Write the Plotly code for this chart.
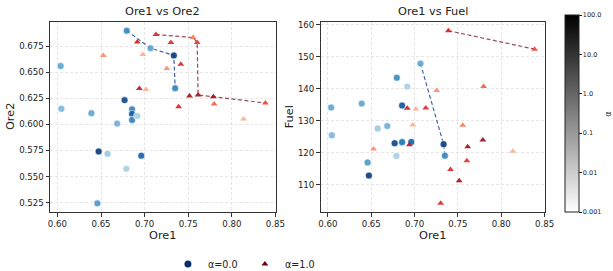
import numpy as np
import plotly.graph_objects as go

# ---------------- data ----------------
# alpha = 0.0 runs (blue circles)
ore1_a0 = [0.6795, 0.7068, 0.7335, 0.7350, 0.6037, 0.6045, 0.6390, 0.6770, 0.6856,
           0.6856, 0.6856, 0.6916, 0.6685, 0.6473, 0.6575, 0.6962, 0.6790, 0.6458]
ore2_a0 = [0.6899, 0.6731, 0.6661, 0.6347, 0.6560, 0.6150, 0.6107, 0.6233, 0.6145,
           0.6100, 0.6043, 0.6081, 0.6008, 0.5741, 0.5719, 0.5700, 0.5574, 0.5243]
fuel_a0 = [143.5, 147.9, 122.7, 119.1, 134.2, 125.5, 135.4, 123.0, 123.5,
           134.8, 123.3, 140.7, 128.4, 112.9, 127.6, 123.4, 119.0, 117.0]
sigma_a0 = [2, 0.5, 60, 2.5, 0.5, 0.2, 0.5, 40, 3, 20, 3, 0.05, 0.3, 70, 0.08, 12, 0.05, 1]

# alpha = 1.0 runs (red triangles)
ore1_a1 = [0.7129, 0.7556, 0.7603, 0.7613, 0.7788, 0.8385, 0.6916, 0.7301, 0.6527,
           0.6979, 0.7415, 0.7255, 0.6940, 0.7015, 0.7515, 0.7390, 0.7797, 0.8135]
ore2_a1 = [0.6861, 0.6833, 0.6785, 0.6281, 0.6266, 0.6205, 0.6790, 0.6785, 0.6660,
           0.6670, 0.6576, 0.6535, 0.6345, 0.6335, 0.6272, 0.6169, 0.6195, 0.6052]
fuel_a1 = [134.0, 128.6, 117.5, 121.9, 124.0, 152.4, 133.9, 104.2, 121.2,
           128.7, 114.8, 139.5, 122.5, 133.7, 111.3, 158.2, 140.7, 120.5]
sigma_a1 = [3, 0.2, 2, 30, 30, 1, 5, 3, 0.1, 0.03, 3, 0.1, 8, 0.03, 25, 4, 0.5, 0.03]

sigma_ticks = [0.001, 0.01, 0.1, 1.0, 10.0, 100.0]
sigma_ticktext = ["0.001", "0.01", "0.1", "1.0", "10.0", "100.0"]
legend_labels = ["α=0.0", "α=1.0"]
titles = ["Ore1 vs Ore2", "Ore1 vs Fuel"]


def pareto(xs, ys):
    pts = list(zip(xs, ys))
    front = [p for p in pts
             if not any((q[0] >= p[0] and q[1] >= p[1]) and q != p for q in pts)]
    front.sort()
    return [p[0] for p in front], [p[1] for p in front]


FONT = "DejaVu Sans"
W, H = 613, 271
# plot-area box in pixels (paper area)
L, R, T, B = 50, 545.3, 22, 212
PW, PH = R - L, B - T


def px(xp):  # pixel x -> paper x
    return (xp - L) / PW


def py(yp):  # pixel y -> paper y
    return (B - yp) / PH


cmin, cmax = np.log10(sigma_ticks[0]), np.log10(sigma_ticks[-1])

blues = [[0, "#f7fbff"], [0.125, "#deebf7"], [0.25, "#c6dbef"], [0.375, "#9ecae1"],
         [0.5, "#6baed6"], [0.625, "#4292c6"], [0.75, "#2171b5"], [0.875, "#08519c"],
         [1, "#08306b"]]
reds = [[0, "#fff5f0"], [0.125, "#fee0d2"], [0.25, "#fcbba1"], [0.375, "#fc9272"],
        [0.5, "#fb6a4a"], [0.625, "#ef3b2c"], [0.75, "#cb181d"], [0.875, "#a50f15"],
        [1, "#67000d"]]

fig = go.Figure()

panels = [("x", "y", ore2_a0, ore2_a1), ("x2", "y2", fuel_a0, fuel_a1)]
for xa, ya, y0, y1 in panels:
    fx, fy = pareto(ore1_a0, y0)
    fig.add_trace(go.Scatter(x=fx, y=fy, mode="lines", xaxis=xa, yaxis=ya,
                             line=dict(color="rgba(30,70,140,0.85)", width=1.2, dash="4px,2.5px"),
                             showlegend=False, hoverinfo="skip"))
    fx, fy = pareto(ore1_a1, y1)
    fig.add_trace(go.Scatter(x=fx, y=fy, mode="lines", xaxis=xa, yaxis=ya,
                             line=dict(color="rgba(130,30,50,0.8)", width=1.2, dash="4px,2.5px"),
                             showlegend=False, hoverinfo="skip"))
    fig.add_trace(go.Scatter(x=ore1_a0, y=y0, mode="markers", xaxis=xa, yaxis=ya,
                             marker=dict(symbol="circle", size=7, color=np.log10(sigma_a0),
                                         colorscale=blues, cmin=cmin, cmax=cmax, opacity=0.9,
                                         line=dict(color="rgba(255,255,255,0.6)", width=1.2)),
                             showlegend=False))
    fig.add_trace(go.Scatter(x=ore1_a1, y=y1, mode="markers", xaxis=xa, yaxis=ya,
                             marker=dict(symbol="triangle-up", size=6, color=np.log10(sigma_a1),
                                         colorscale=reds, cmin=cmin, cmax=cmax, opacity=0.9,
                                         line=dict(width=0)),
                             showlegend=False))

# legend entries
fig.add_trace(go.Scatter(x=[None], y=[None], mode="markers", name=legend_labels[0],
                         marker=dict(symbol="circle", size=7, color="#08306b")))
fig.add_trace(go.Scatter(x=[None], y=[None], mode="markers", name=legend_labels[1],
                         marker=dict(symbol="triangle-up", size=6, color="#67000d")))

# colorbar
fig.add_trace(go.Scatter(x=[None], y=[None], mode="markers", showlegend=False, hoverinfo="skip",
                         marker=dict(color=[cmin, cmax], cmin=cmin, cmax=cmax,
                                     colorscale=[[0, "#ffffff"], [1, "#000000"]],
                                     showscale=True,
                                     colorbar=dict(x=px(565.7), xanchor="left",
                                                   y=py(113.5), yanchor="middle",
                                                   len=197 / PH, lenmode="fraction",
                                                   thickness=13.5, outlinewidth=1,
                                                   outlinecolor="#222",
                                                   tickvals=list(np.log10(sigma_ticks)),
                                                   ticktext=sigma_ticktext,
                                                   ticks="outside", ticklen=2.5, tickwidth=0.8,
                                                   tickcolor="#222",
                                                   tickfont=dict(family=FONT, size=6.5, color="#222"),
                                                   xpad=0, ypad=0))))

axis_common = dict(showline=True, mirror=True, linecolor="#333", linewidth=1,
                   ticks="outside", ticklen=3.5, tickwidth=0.8, tickcolor="#333",
                   showgrid=True, gridcolor="#e6e6e6", griddash="3px,2px", gridwidth=0.8,
                   zeroline=False, automargin=False,
                   tickfont=dict(family=FONT, size=8.6, color="#222"))


def label(text, xp, yp, size=11.3, angle=0):
    return dict(text=text, x=px(xp), y=py(yp), xref="paper", yref="paper",
                xanchor="center", yanchor="middle", textangle=angle, showarrow=False,
                font=dict(family=FONT, size=size, color="#222"))


xr = [0.5915, 0.8505]
fig.update_layout(
    width=W, height=H, margin=dict(l=L, r=W - R, t=T, b=H - B, autoexpand=False),
    paper_bgcolor="white", plot_bgcolor="white",
    font=dict(family=FONT, color="#222"),
    xaxis=dict(domain=[0, px(276)], range=xr, anchor="y",
               tickvals=[0.60, 0.65, 0.70, 0.75, 0.80, 0.85], tickformat=".2f", **axis_common),
    yaxis=dict(domain=[0, 1], range=[0.5160, 0.6982], anchor="x",
               tickvals=[0.525, 0.55, 0.575, 0.6, 0.625, 0.65, 0.675], tickformat=".3f",
               **axis_common),
    xaxis2=dict(domain=[px(320.7), 1], range=xr, anchor="y2",
                tickvals=[0.60, 0.65, 0.70, 0.75, 0.80, 0.85], tickformat=".2f", **axis_common),
    yaxis2=dict(domain=[0, 1], range=[101.5, 160.9], anchor="x2",
                tickvals=[110, 120, 130, 140, 150, 160], **axis_common),
    showlegend=True,
    legend=dict(orientation="h", x=px(168), xanchor="left", y=py(264),
                yanchor="middle", font=dict(family=FONT, size=9.6, color="#222"),
                bgcolor="rgba(0,0,0,0)", entrywidth=32, entrywidthmode="pixels"),
    annotations=[
        label(titles[0], 163, 11.5),
        label(titles[1], 433, 11.5),
        label("Ore1", 163, 235),
        label("Ore1", 433, 235),
        label("Ore2", 10, 117, angle=-90),
        label("Fuel", 289.5, 117, angle=-90),
        label("α", 609, 114, size=8, angle=-90),
    ],
)

fig.write_html("out.html", config={"displayModeBar": False},
               post_script="document.body.style.margin='0';document.body.style.overflow='hidden';")
